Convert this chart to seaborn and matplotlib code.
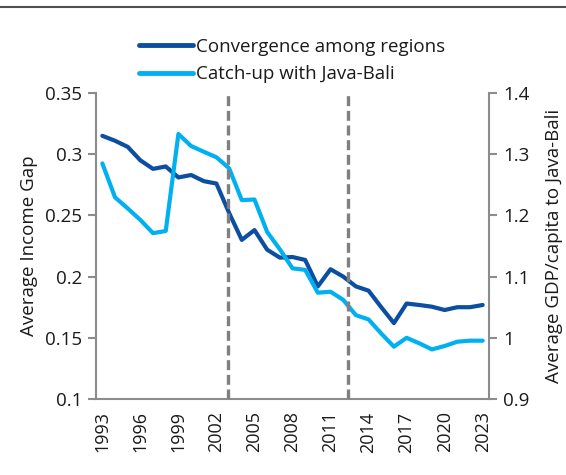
import matplotlib
matplotlib.use("Agg")
import matplotlib.pyplot as plt
import seaborn as sns
import pandas as pd
from matplotlib.lines import Line2D

# Annual series, 1993-2023
years = list(range(1993, 2024))
convergence = [0.315, 0.311, 0.306, 0.295, 0.288, 0.290, 0.281, 0.283, 0.278, 0.276,
               0.252, 0.230, 0.238, 0.222, 0.2155, 0.216, 0.2136, 0.192, 0.206, 0.200,
               0.192, 0.1885, 0.175, 0.162, 0.178, 0.1768, 0.1754, 0.1727, 0.175, 0.175,
               0.1768]
catch_up = [1.285, 1.2295, 1.2115, 1.1925, 1.171, 1.1745, 1.333, 1.3134, 1.304, 1.295,
            1.277, 1.225, 1.226, 1.173, 1.1446, 1.1135, 1.111, 1.0737, 1.0753, 1.062,
            1.037, 1.030, 1.007, 0.9855, 1.000, 0.991, 0.981, 0.9866, 0.9936, 0.9953,
            0.9953]
period_breaks = [2002.9, 2012.4]

left_ticks = [0.1, 0.15, 0.2, 0.25, 0.3, 0.35]
left_labels = ["0.1", "0.15", "0.2", "0.25", "0.3", "0.35"]
right_ticks = [0.9, 1.0, 1.1, 1.2, 1.3, 1.4]
right_labels = ["0.9", "1", "1.1", "1.2", "1.3", "1.4"]
label_years = list(range(1993, 2024, 3))

df = pd.DataFrame({"year": years, "convergence": convergence, "catch_up": catch_up})

sns.set_style("white")
plt.rcParams["font.family"] = ["Open Sans", "DejaVu Sans"]

DARK = "#0B4EA2"
LIGHT = "#00B0F0"
SPINE = "#8C8C8C"
TXT = "#1a1a1a"

fig = plt.figure(figsize=(5.66, 4.75), dpi=100)
ax = fig.add_axes([96 / 566, 1 - 399 / 475, (489 - 96) / 566, (399 - 93) / 475])
ax2 = ax.twinx()

sns.lineplot(data=df, x="year", y="convergence", ax=ax, color=DARK, linewidth=3.0,
             legend=False)
sns.lineplot(data=df, x="year", y="catch_up", ax=ax2, color=LIGHT, linewidth=3.0,
             legend=False)

for xb in period_breaks:
    ax2.axvline(xb, color="#808080", linewidth=2.4, linestyle=(0, (3.0, 1.4)), zorder=5)

ax.set_xlim(1992.5, 2023.5)
ax.set_ylim(0.1, 0.35)
ax2.set_ylim(0.9, 1.4)

ax.set_yticks(left_ticks)
ax.set_yticklabels(left_labels)
ax2.set_yticks(right_ticks)
ax2.set_yticklabels(right_labels)

# tick marks on category boundaries, labels on category centres
ax.set_xticks([y - 0.5 for y in label_years])
ax.set_xticklabels([])
ax.set_xticks(label_years, minor=True)
ax.set_xticklabels([str(y) for y in label_years], minor=True, rotation=90)

fs = 13.5
ax.tick_params(axis="x", which="major", length=6, width=1.5, color=SPINE, direction="out")
ax.tick_params(axis="x", which="minor", length=0, pad=9, labelsize=13, labelcolor=TXT)
ax.tick_params(axis="y", length=6, width=1.5, color=SPINE, direction="out",
               labelsize=fs, labelcolor=TXT, pad=4, left=True)
ax2.tick_params(axis="y", length=6, width=1.5, color=SPINE, direction="out",
                labelsize=fs, labelcolor=TXT, pad=4, right=True)

ax.set_xlabel("")
ax.set_ylabel("Average Income Gap", fontsize=fs, color=TXT, labelpad=5)
ax2.set_ylabel("Average GDP/capita to Java-Bali", fontsize=fs, color=TXT, labelpad=11)

for a in (ax, ax2):
    a.spines["top"].set_visible(False)
    for s in ("left", "right", "bottom"):
        a.spines[s].set_color(SPINE)
        a.spines[s].set_linewidth(1.5)
ax.spines["right"].set_visible(False)
ax2.spines["left"].set_visible(False)
ax2.spines["bottom"].set_visible(False)

handles = [Line2D([], [], color=DARK, linewidth=3.5, solid_capstyle="round"),
           Line2D([], [], color=LIGHT, linewidth=3.5, solid_capstyle="round")]
fig.legend(handles, ["Convergence among regions", "Catch-up with Java-Bali"],
           loc="center left", bbox_to_anchor=(139 / 566, 1 - 60.5 / 475),
           frameon=False, fontsize=fs, handlelength=2.9, handletextpad=0.15,
           labelspacing=0.5, borderpad=0, borderaxespad=0, labelcolor=TXT)

# header rule
fig.add_artist(Line2D([0, 1], [1 - 6.5 / 475, 1 - 6.5 / 475], color="#505050",
                      linewidth=1.5, transform=fig.transFigure))

fig.savefig("out.png", dpi=100)
